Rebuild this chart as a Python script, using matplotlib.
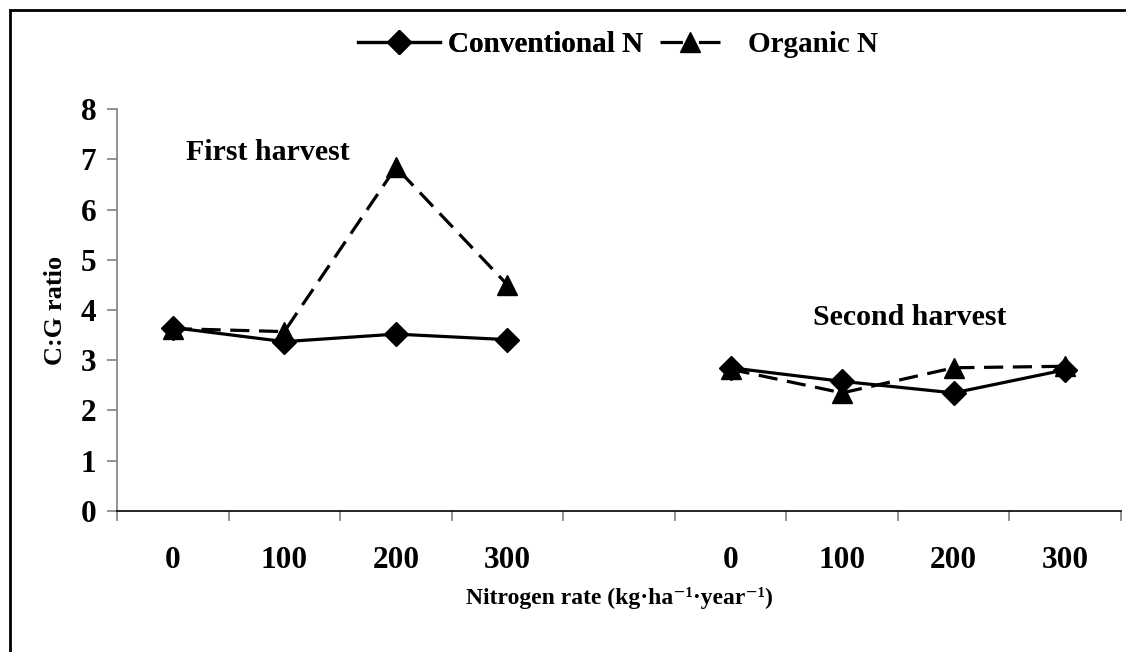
import matplotlib.pyplot as plt
from matplotlib.patches import Rectangle

# Data
rates = ['0', '100', '200', '300']
conv_first = [3.65, 3.37, 3.52, 3.41]
org_first = [3.63, 3.57, 6.84, 4.50]
conv_second = [2.85, 2.58, 2.35, 2.81]
org_second = [2.82, 2.35, 2.85, 2.88]

plt.rcParams['font.family'] = ['Liberation Serif', 'DejaVu Serif']
plt.rcParams['font.weight'] = 'bold'

fig = plt.figure(figsize=(11.26, 6.52), dpi=100)
ax = fig.add_axes([0.1039, 0.2163, 0.8917, 0.6165])

# category positions: first harvest 0-3, an empty slot, second harvest 5-8
x_first = [i + 0.5 for i in range(len(rates))]
x_second = [i + 5.5 for i in range(len(rates))]

line_kw = dict(color='black', linewidth=2.3)
conv_line, = ax.plot(x_first, conv_first, marker='D', markersize=12, label='Conventional N', **line_kw)
org_line, = ax.plot(x_first, org_first, marker='^', markersize=15, linestyle=(0, (6, 3)),
                    label='Organic N', **line_kw)
ax.plot(x_second, conv_second, marker='D', markersize=12, **line_kw)
ax.plot(x_second, org_second, marker='^', markersize=15, linestyle=(0, (6, 3)), **line_kw)

ax.set_xlim(0, 9)
ax.set_ylim(0, 8)

# x ticks between categories, labels at category centres
ax.set_xticks(range(10), minor=True)
ax.set_xticks(x_first + x_second)
ax.set_xticklabels(rates + rates)
ax.tick_params(axis='x', which='major', length=0, pad=25, labelsize=22.5)
ax.tick_params(axis='x', which='minor', length=7, width=1.2, color='#808080', direction='out')
ax.set_yticks(range(9))
ax.tick_params(axis='y', length=7, width=1.2, color='#808080', labelsize=22.5, pad=8)

for side in ['top', 'right']:
    ax.spines[side].set_visible(False)
ax.spines['left'].set_color('#808080')
ax.spines['left'].set_linewidth(1.2)
ax.spines['bottom'].set_color('black')
ax.spines['bottom'].set_linewidth(1.2)

ax.set_ylabel('C:G ratio', fontsize=19, fontweight='bold', labelpad=10)
ax.set_xlabel('Nitrogen rate (kg·ha⁻¹·year⁻¹)', fontsize=17, fontweight='bold', labelpad=9)

ax.text(0.62, 7.13, 'First harvest', fontsize=21.5, fontweight='bold', va='center')
ax.text(6.24, 3.86, 'Second harvest', fontsize=21.5, fontweight='bold', va='center')

# two legend pieces, as the handles have different lengths
leg_y = 1 - 45 / 652
leg_kw = dict(loc='center left', frameon=False, fontsize=21, borderpad=0, borderaxespad=0)
leg1 = fig.legend(handles=[conv_line], bbox_to_anchor=(358 / 1126, leg_y),
                  handlelength=2.8, handletextpad=0.28, **leg_kw)
leg2 = fig.legend(handles=[org_line], bbox_to_anchor=(660 / 1126, leg_y),
                  handlelength=2.05, handletextpad=0.95, **leg_kw)
leg2.get_lines()[0].set_linestyle((0, (7, 5)))
fig.add_artist(leg1)

# outer border of the chart area
fig.patches.append(Rectangle((10 / 1126, -0.1), 1.2, 1 - 10 / 652 + 0.1, transform=fig.transFigure,
                             fill=False, edgecolor='black', linewidth=2))

fig.savefig('out.png', dpi=100)
